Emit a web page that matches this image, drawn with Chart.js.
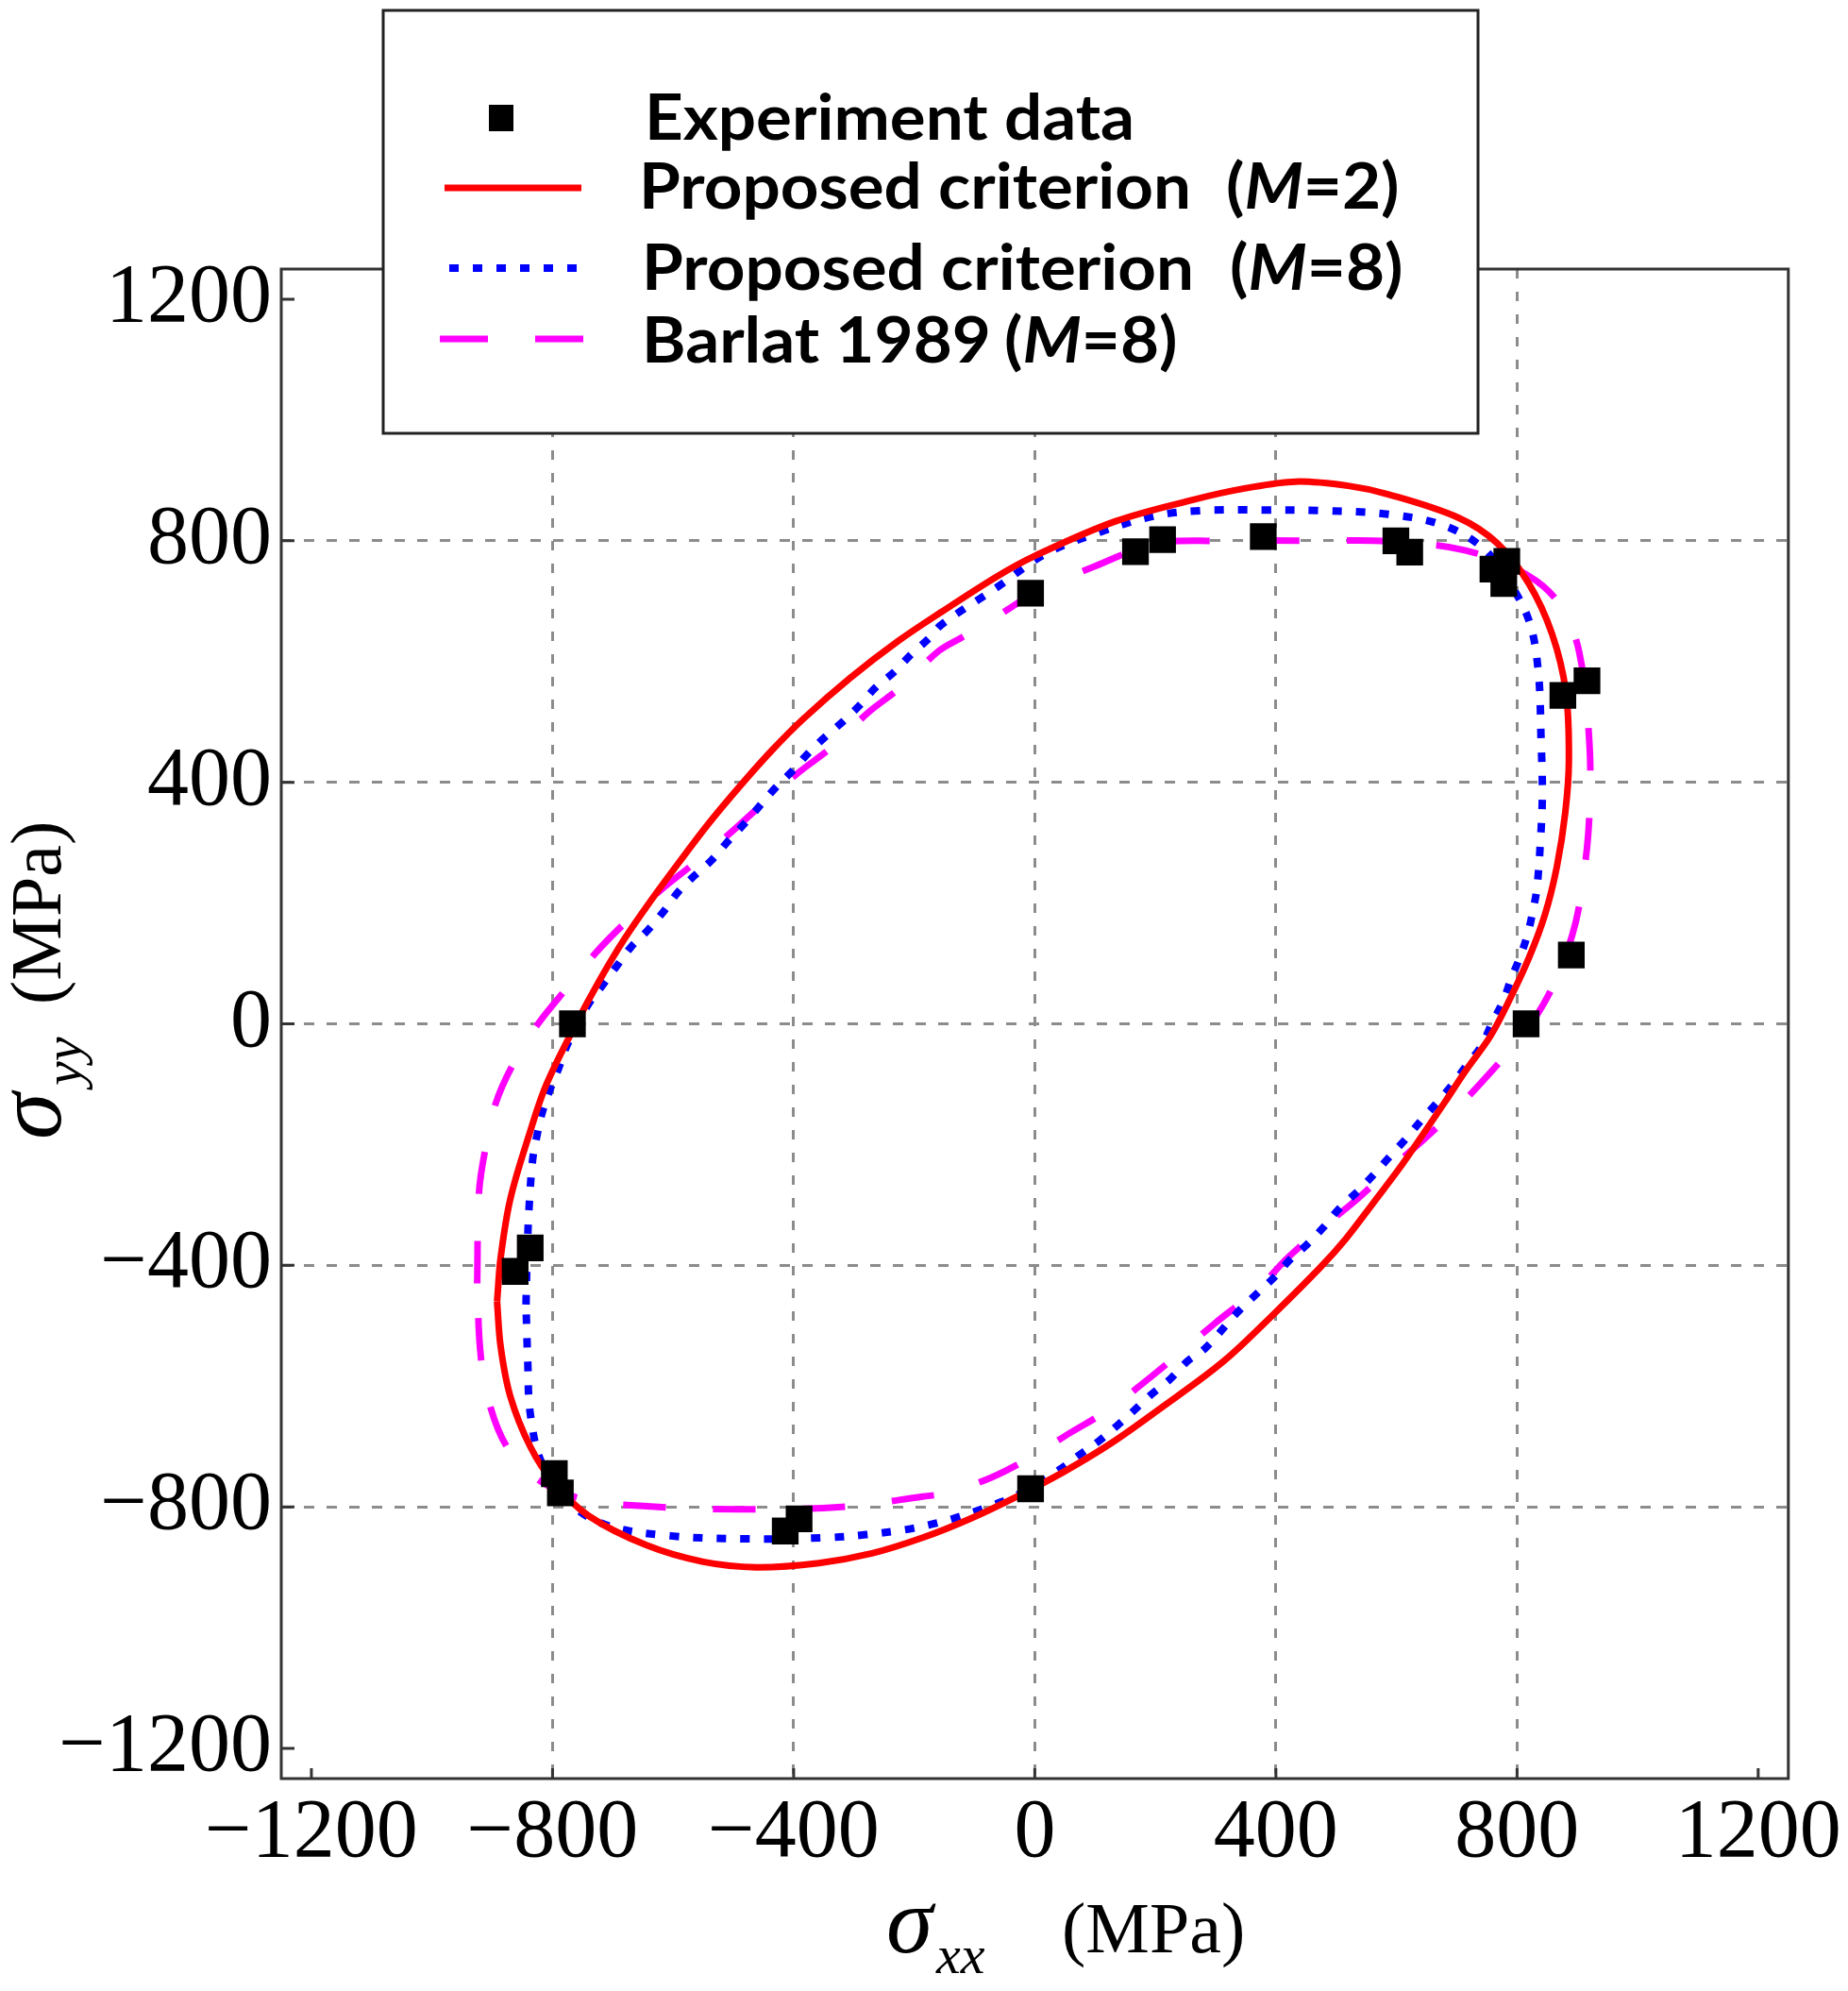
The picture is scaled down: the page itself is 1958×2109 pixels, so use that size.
<!DOCTYPE html>
<html>
<head>
<meta charset="utf-8">
<script src="https://cdn.jsdelivr.net/npm/chart.js@4.4.1/dist/chart.umd.min.js"></script>
<style>
html,body{margin:0;padding:0;background:#fff;}
canvas{display:block;}
</style>
</head>
<body>
<canvas id="c" width="1958" height="2109"></canvas>
<script>
// ---------- data ----------
const xTicks = [-1200, -800, -400, 0, 400, 800, 1200];
const yTicks = [-1200, -800, -400, 0, 400, 800, 1200];

const seriesLabels = ['Experiment data', 'Proposed criterion  (M=2)', 'Proposed criterion  (M=8)', 'Barlat 1989 (M=8)'];
const xTitleParts = ['σ', 'xx', '(MPa)'];
const yTitleParts = ['σ', 'yy', '(MPa)'];

const expX = [-7, 167, 212, 379, 599, 622, 760, 783, 778, 876, 916, 890, 815, -767, -837, -862, -797, -787, -391, -414, -7];
const expY = [713, 782, 802, 807, 800, 781, 753, 766, 729, 544, 568, 114, 0, 0, -371, -410, -745, -777, -820, -840, -770];

const m2X = [-892, -886, -870, -837, -810, -761, -722, -681, -634, -592, -540, -488, -436, -384, -306, -228, -155, -61, 0, 133, 263, 350, 433, 520, 586, 703, 767, 819, 858, 881, 886, 880, 866, 846, 820, 790, 756, 716, 680, 646, 608, 562, 516, 474, 396, 313, 204, 126, 48, -30, -108, -186, -270, -358, -462, -550, -643, -740, -798, -837, -870, -886, -892];
const m2Y = [-460, -387, -290, -178, -100, 0, 72, 140, 208, 265, 333, 395, 453, 505, 573, 633, 682, 742, 775, 832, 868, 887, 898, 891, 877, 838, 796, 730, 646, 550, 436, 350, 260, 180, 110, 45, -20, -76, -130, -180, -235, -296, -356, -403, -481, -559, -640, -695, -742, -783, -820, -851, -877, -893, -900, -891, -864, -815, -760, -700, -617, -535, -460];

const m8X = [-844, -842, -839, -833, -826, -818, -805, -790, -777, -758, -740, -717, -694, -670, -642, -615, -592, -566, -537, -511, -483, -431, -402, -376, -348, -319, -290, -264, -233, -205, -176, -155, -61, 17, 107, 198, 277, 380, 474, 586, 677, 741, 780, 819, 835, 840, 842, 839, 833, 826, 818, 805, 790, 777, 758, 740, 716, 693, 667, 641, 615, 586, 562, 536, 505, 478, 451, 422, 396, 365, 336, 282, 253, 225, 193, 165, 136, 105, 71, 40, -30, -64, -100, -137, -176, -216, -280, -346, -475, -604, -708, -773, -818, -837, -841, -844];
const m8Y = [-465, -380, -306, -225, -186, -150, -111, -74, -38, 0, 33, 64, 95, 127, 155, 187, 218, 244, 270, 300, 330, 390, 419, 448, 475, 500, 528, 557, 583, 612, 638, 661, 724, 778, 814, 841, 850, 851, 850, 844, 826, 790, 742, 670, 586, 466, 380, 306, 225, 186, 150, 111, 74, 38, 0, -38, -69, -100, -131, -160, -191, -223, -250, -277, -306, -338, -366, -392, -421, -450, -478, -538, -559, -588, -614, -640, -666, -692, -716, -739, -781, -795, -808, -820, -830, -838, -846, -851, -853, -848, -831, -793, -727, -645, -563, -465];

const barX = [-925, -922, -912, -894, -865, -824, -779, -727, -681, -621, -566, -504, -452, -392, -337, -277, -223, -160, -121, -61, 7, 100, 199, 300, 474, 586, 715, 819, 871, 903, 920, 920, 912, 897, 871, 844, 807, 750, 706, 646, 594, 534, 480, 420, 370, 300, 243, 186, 121, 61, -7, -69, -142, -186, -320, -488, -643, -747, -824, -876, -908, -920, -925];
const barY = [-430, -280, -210, -131, -66, 0, 56, 119, 166, 221, 265, 317, 364, 416, 458, 515, 557, 617, 640, 676, 718, 758, 795, 800, 800, 799, 784, 742, 694, 616, 466, 347, 257, 167, 89, 33, -22, -87, -134, -191, -236, -291, -335, -387, -439, -495, -543, -590, -640, -676, -718, -750, -776, -783, -800, -804, -799, -788, -755, -700, -617, -540, -430];

// ---------- helpers ----------
const toPts = (xs, ys) => xs.map((x, i) => ({ x: x, y: ys[i] }));
const fmt = v => (v < 0 ? '\u2212' : '') + Math.abs(v);
const SERIF = '"Liberation Serif", "Times New Roman", serif';

// frame + inner tick marks
const framePlugin = {
  id: 'frame',
  afterDraw(chart) {
    const { ctx, chartArea: a, scales } = chart;
    ctx.save();
    ctx.strokeStyle = '#333';
    ctx.lineWidth = 3;
    ctx.setLineDash([]);
    ctx.strokeRect(a.left, a.top, a.right - a.left, a.bottom - a.top);
    ctx.beginPath();
    yTicks.forEach(v => {
      const p = scales.y.getPixelForValue(v);
      ctx.moveTo(a.left, p); ctx.lineTo(a.left + 14, p);
    });
    xTicks.forEach(v => {
      const p = scales.x.getPixelForValue(v);
      ctx.moveTo(p, a.bottom); ctx.lineTo(p, a.bottom - 11);
    });
    ctx.stroke();
    ctx.restore();
  }
};

// axis titles with subscripts
const titlePlugin = {
  id: 'titles',
  afterDraw(chart) {
    const ctx = chart.ctx;
    ctx.save();
    ctx.fillStyle = '#000';
    ctx.textAlign = 'left';
    ctx.textBaseline = 'alphabetic';
    ctx.font = 'italic 100px ' + SERIF;
    ctx.fillText(xTitleParts[0], 939, 2068);
    ctx.font = 'italic 58px ' + SERIF;
    ctx.fillText(xTitleParts[1], 992, 2090);
    ctx.font = '76px ' + SERIF;
    ctx.fillText(xTitleParts[2], 1125, 2068);

    ctx.translate(64, 1207);
    ctx.rotate(-Math.PI / 2);
    ctx.font = 'italic 100px ' + SERIF;
    ctx.fillText(yTitleParts[0], 0, 0);
    ctx.font = 'italic 58px ' + SERIF;
    ctx.fillText(yTitleParts[1], 57, 22);
    ctx.font = '76px ' + SERIF;
    ctx.fillText(yTitleParts[2], 143, 0);
    ctx.restore();
  }
};

// boxed legend overlapping the top of the plot
const legendPlugin = {
  id: 'boxLegend',
  afterDraw(chart) {
    const ctx = chart.ctx;
    const ds = chart.data.datasets;
    ctx.save();
    ctx.fillStyle = '#fff';
    ctx.fillRect(406, 11, 1160, 448);
    ctx.lineWidth = 3;
    ctx.strokeStyle = '#222';
    ctx.setLineDash([]);
    ctx.strokeRect(406, 11, 1160, 448);

    const rows = [
      { sy: 125, base: 148, tx: 683, px: null },
      { sy: 199, base: 221, tx: 677, px: 1299 },
      { sy: 284, base: 307, tx: 680, px: 1303 },
      { sy: 359, base: 384, tx: 680, px: 1058 }
    ];
    const FONT = 'bold 67px Lato, "Open Sans", sans-serif';
    const IFONT = 'italic bold 67px Lato, "Open Sans", sans-serif';
    ctx.font = FONT;
    const sx = 585 / ctx.measureText('Proposed criterion').width;
    const put = (s, x, y, f) => {
      ctx.font = f;
      const w = ctx.measureText(s).width * sx;
      ctx.save(); ctx.translate(x, y); ctx.scale(sx, 1); ctx.fillText(s, 0, 0); ctx.restore();
      return w;
    };

    ds.forEach((d, i) => {
      const r = rows[i];
      if (i === 0) {
        ctx.fillStyle = d.backgroundColor;
        ctx.fillRect(531 - 13, r.sy - 14, 26, 28);
      } else {
        ctx.beginPath();
        ctx.strokeStyle = d.borderColor;
        ctx.lineWidth = d.borderWidth;
        ctx.lineCap = 'butt';
        if (i === 3) { ctx.setLineDash([51, 50]); ctx.moveTo(466, r.sy); ctx.lineTo(618, r.sy); }
        else if (i === 2) { ctx.setLineDash(d.borderDash); ctx.moveTo(476, r.sy); ctx.lineTo(618, r.sy); }
        else { ctx.setLineDash([]); ctx.moveTo(471, r.sy); ctx.lineTo(616, r.sy); }
        ctx.stroke();
        ctx.setLineDash([]);
      }
      ctx.fillStyle = '#000';
      ctx.textAlign = 'left';
      ctx.textBaseline = 'alphabetic';
      const m = d.label.match(/^(.*?)\s*\((M)=(.*)\)$/);
      if (m) {
        const wMain = put(m[1], r.tx, r.base, FONT);
        let x = Math.max(r.px, r.tx + wMain + 14);
        x += put('(', x, r.base, FONT);
        x += put(m[2], x, r.base, IFONT);
        put('=' + m[3] + ')', x, r.base, FONT);
      } else {
        put(d.label, r.tx, r.base, FONT);
      }
    });
    ctx.restore();
  }
};

const gridColor = c => (c.tick && Math.abs(c.tick.value) === 1200) ? 'rgba(0,0,0,0)' : '#8c8c8c';

new Chart(document.getElementById('c'), {
  type: 'scatter',
  data: {
    datasets: [
      {
        label: seriesLabels[0],
        data: toPts(expX, expY),
        showLine: false,
        pointStyle: 'rect',
        pointRadius: 20,
        backgroundColor: '#000',
        borderColor: '#000',
        borderWidth: 0,
        order: 0
      },
      {
        label: seriesLabels[1],
        data: toPts(m2X, m2Y),
        showLine: true,
        borderColor: '#ff0000',
        borderWidth: 7,
        pointRadius: 0,
        tension: 0.35,
        fill: false,
        order: 1
      },
      {
        label: seriesLabels[2],
        data: toPts(m8X, m8Y),
        showLine: true,
        borderColor: '#0000ff',
        borderWidth: 8,
        borderDash: [10, 15],
        pointRadius: 0,
        tension: 0.35,
        fill: false,
        order: 2
      },
      {
        label: seriesLabels[3],
        data: toPts(barX, barY),
        showLine: true,
        borderColor: '#ff00ff',
        borderWidth: 7,
        borderDash: [45, 50],
        pointRadius: 0,
        tension: 0.35,
        fill: false,
        order: 3
      }
    ]
  },
  options: {
    responsive: false,
    animation: false,
    events: [],
    layout: { autoPadding: false, padding: { top: 285, right: 58, left: 0, bottom: 0 } },
    plugins: { legend: { display: false }, tooltip: { enabled: false } },
    scales: {
      x: {
        type: 'linear',
        position: 'bottom',
        min: -1250,
        max: 1250,
        afterBuildTicks: s => { s.ticks = xTicks.map(v => ({ value: v })); },
        afterFit: s => { s.height = 225; },
        grid: { color: gridColor, lineWidth: 3, drawTicks: false },
        border: { display: false, dash: [10, 14] },
        ticks: {
          font: { family: SERIF, size: 88 },
          color: '#000',
          padding: 6,
          autoSkip: false,
          maxRotation: 0,
          minRotation: 0,
          callback: v => fmt(v)
        },
        title: { display: false }
      },
      y: {
        type: 'linear',
        position: 'left',
        min: -1250,
        max: 1250,
        afterBuildTicks: s => { s.ticks = yTicks.map(v => ({ value: v })); },
        afterFit: s => { s.width = 298; },
        grid: { color: gridColor, lineWidth: 3, drawTicks: false },
        border: { display: false, dash: [11, 13] },
        ticks: {
          font: { family: SERIF, size: 88 },
          color: '#000',
          padding: 10,
          autoSkip: false,
          callback: v => fmt(v)
        },
        title: { display: false }
      }
    }
  },
  plugins: [framePlugin, legendPlugin, titlePlugin]
});
</script>
</body>
</html>
